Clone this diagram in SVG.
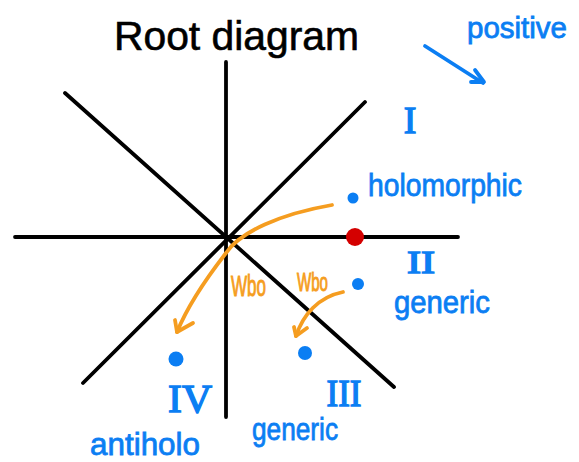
<svg xmlns="http://www.w3.org/2000/svg" width="579" height="462" viewBox="0 0 579 462">
<style>
.ax{stroke:#000;stroke-width:3.8;stroke-linecap:round;fill:none}
.or{stroke:#f59d20;stroke-width:3.8;stroke-linecap:round;stroke-linejoin:round;fill:none}
.bl{stroke:#0b7ef3;stroke-width:3.8;stroke-linecap:round;stroke-linejoin:round;fill:none}
.bt{fill:#0b7ef3;font-family:"Liberation Sans",Arial,sans-serif;stroke:#0b7ef3;stroke-width:0.8}
.rn{fill:#0b7ef3;font-family:"Liberation Serif","Times New Roman",serif;stroke:#0b7ef3;stroke-width:1.4}
.ot{fill:#f59d20;font-family:"Liberation Sans",Arial,sans-serif;stroke:#f59d20;stroke-width:1}
.dot{fill:#0b7ef3}
</style>
<rect width="579" height="462" fill="#fff"/>
<text id="title" x="114" y="50" font-family="'Liberation Sans',Arial,sans-serif" font-size="40" textLength="245" lengthAdjust="spacingAndGlyphs" fill="#000" stroke="#000" stroke-width="0.6">Root diagram</text>
<g id="axes">
<line class="ax" x1="226" y1="62" x2="226" y2="417"/>
<line class="ax" x1="15" y1="237" x2="458" y2="237"/>
<line class="ax" x1="65" y1="93" x2="394" y2="387"/>
<line class="ax" x1="365" y1="102" x2="83" y2="383"/>
</g>
<g id="connectors">
<path class="or" d="M332,205 C280,214 240,232 226,253 C205,280 188,305 177,332"/>
<path class="or" d="M175,320 L177,332 L193,323"/>
<path class="or" d="M343,292 C318,297 303,315 296,336"/>
<path class="or" d="M294,327 L296,336 L307,328"/>
<path class="bl" d="M425,46 L483,83"/>
<path class="bl" d="M475,70 L484,82 L471,82"/>
</g>
<g id="positive"><text class="bt" x="467" y="38" font-size="30" textLength="100" lengthAdjust="spacingAndGlyphs">positive</text></g>
<g id="root-I">
<text class="rn" x="410" y="133" font-size="38" text-anchor="middle">I</text>
<circle class="dot" cx="353" cy="198" r="5.5"/>
<text class="bt" x="368" y="196" font-size="32" textLength="154" lengthAdjust="spacingAndGlyphs">holomorphic</text>
</g>
<g id="root-red"><circle cx="355" cy="237" r="9" fill="#d40000"/></g>
<g id="root-II">
<circle class="dot" cx="358" cy="284" r="6"/>
<text class="rn" x="421" y="273" font-size="31" text-anchor="middle" textLength="28" lengthAdjust="spacingAndGlyphs">II</text>
<text class="bt" x="394" y="313" font-size="32" textLength="96" lengthAdjust="spacingAndGlyphs">generic</text>
</g>
<g id="root-III">
<circle class="dot" cx="305" cy="353" r="7"/>
<text class="rn" x="344" y="406" font-size="38" text-anchor="middle" textLength="35" lengthAdjust="spacingAndGlyphs">III</text>
<text class="bt" x="252" y="440" font-size="32" textLength="86" lengthAdjust="spacingAndGlyphs">generic</text>
</g>
<g id="root-IV">
<circle class="dot" cx="176" cy="359" r="7.5"/>
<text class="rn" x="190" y="412" font-size="40" text-anchor="middle" textLength="44" lengthAdjust="spacingAndGlyphs">IV</text>
<text class="bt" x="90" y="455" font-size="32" textLength="110" lengthAdjust="spacingAndGlyphs">antiholo</text>
</g>
<g id="labels-w">
<text class="ot" x="231" y="296" font-size="30" textLength="35" lengthAdjust="spacingAndGlyphs">Wbo</text>
<text class="ot" x="297" y="291" font-size="26" textLength="31" lengthAdjust="spacingAndGlyphs">Wbo</text>
</g>
</svg>
